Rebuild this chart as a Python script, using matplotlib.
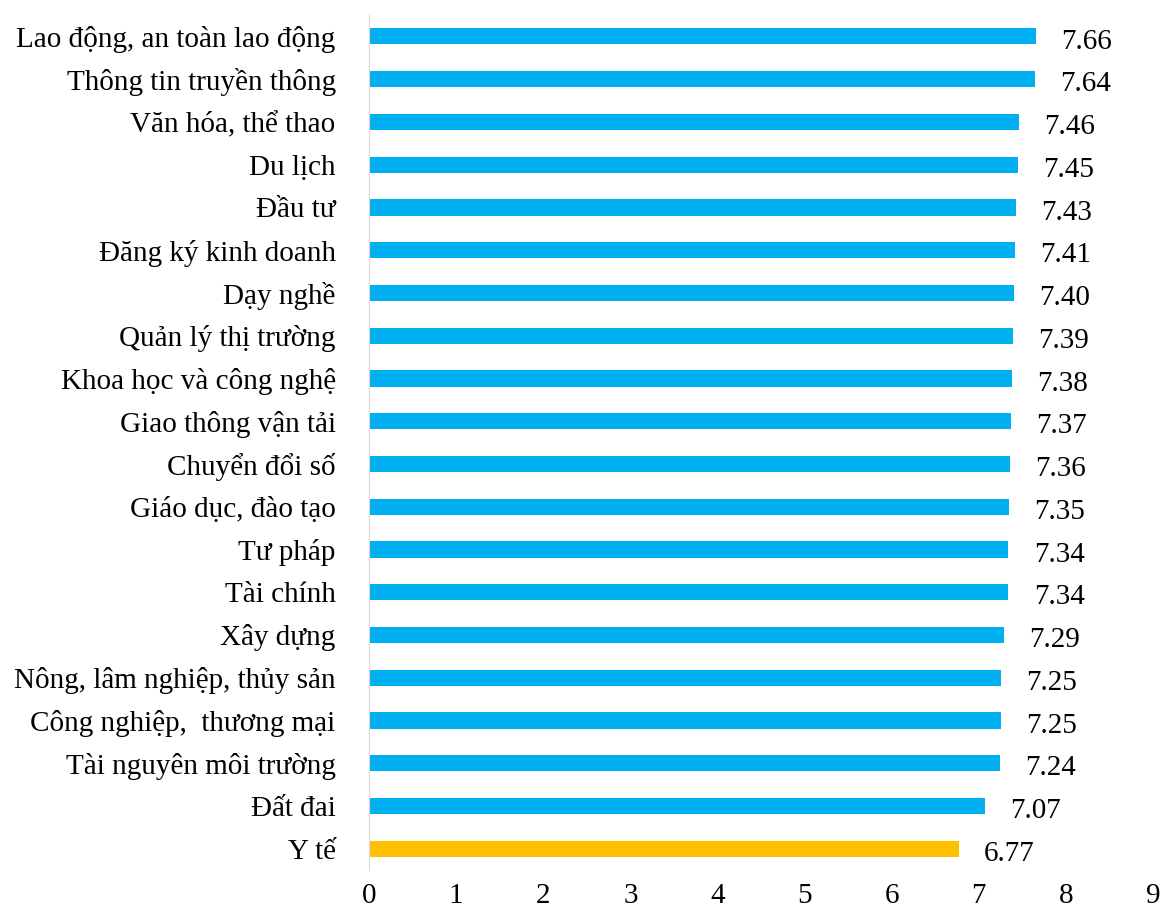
"""
Horizontal bar chart of satisfaction scores per sector.
"""
import matplotlib
matplotlib.use("Agg")
import matplotlib.pyplot as plt

# Data (top to bottom as shown)
categories = [
    "Lao động, an toàn lao động",
    "Thông tin truyền thông",
    "Văn hóa, thể thao",
    "Du lịch",
    "Đầu tư",
    "Đăng ký kinh doanh",
    "Dạy nghề",
    "Quản lý thị trường",
    "Khoa học và công nghệ",
    "Giao thông vận tải",
    "Chuyển đổi số",
    "Giáo dục, đào tạo",
    "Tư pháp",
    "Tài chính",
    "Xây dựng",
    "Nông, lâm nghiệp, thủy sản",
    "Công nghiệp,  thương mại",
    "Tài nguyên môi trường",
    "Đất đai",
    "Y tế",
]
scores = [7.66, 7.64, 7.46, 7.45, 7.43, 7.41, 7.40, 7.39, 7.38, 7.37,
          7.36, 7.35, 7.34, 7.34, 7.29, 7.25, 7.25, 7.24, 7.07, 6.77]
highlight = "Y tế"

plt.rcParams['font.family'] = ['Liberation Serif', 'DejaVu Serif']

fig = plt.figure(figsize=(11.62, 9.14), dpi=100)
ax = fig.add_axes([0.3176, 0.048, 0.6747, 0.9356])

colors = ["#FFC000" if c == highlight else "#00B0F0" for c in categories]
pos = list(range(len(categories)))[::-1]
ax.barh(pos, scores, height=0.38, color=colors)

# value labels right of each bar
for p, v in zip(pos, scores):
    ax.text(v + 0.29, p - 0.05, f"{v:.2f}", va="center_baseline", ha="left", fontsize=21)

ax.set_yticks(pos)
ax.set_yticklabels(categories, fontsize=21)
ax.set_xlim(0, 9)
ax.set_ylim(-0.5, len(categories) - 0.5)
ax.set_xticks(range(10))
ax.tick_params(axis="x", labelsize=21, length=0, pad=9)
ax.tick_params(axis="y", length=0, pad=24)

for s in ["top", "right", "bottom"]:
    ax.spines[s].set_visible(False)
ax.spines["left"].set_color("#D9D9D9")

fig.savefig("out.png", dpi=100)
